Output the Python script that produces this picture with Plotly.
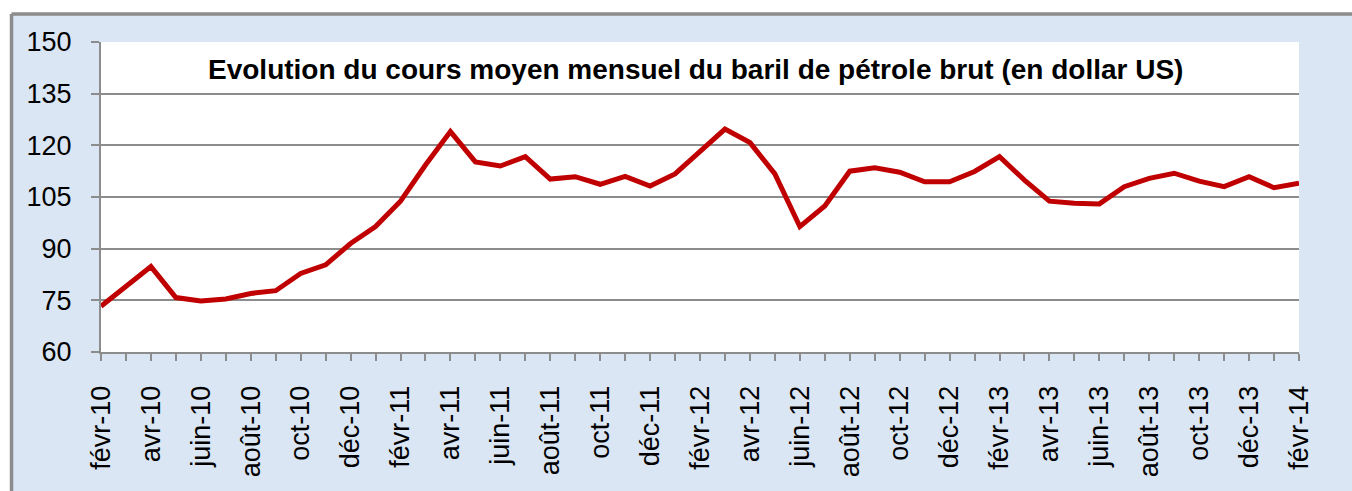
import plotly.graph_objects as go

# Cours moyen mensuel du baril (USD), févr-10 -> févr-14
month_names = ["janv", "févr", "mars", "avr", "mai", "juin",
               "juil", "août", "sept", "oct", "nov", "déc"]
months = [f"{month_names[(1 + i) % 12]}-{10 + (1 + i) // 12}" for i in range(49)]

prices = [
    73.3, 79.2, 84.8, 75.8, 74.8, 75.4, 77.0, 77.8, 82.8, 85.3,
    91.5, 96.4, 103.8, 114.3, 124.0, 115.2, 114.0, 116.7, 110.2, 110.9,
    108.7, 111.0, 108.2, 111.7, 118.2, 124.7, 120.8, 111.7, 96.4, 102.4,
    112.5, 113.5, 112.2, 109.4, 109.4, 112.4, 116.7, 109.9, 103.8, 103.2,
    103.0, 108.0, 110.4, 111.9, 109.6, 108.0, 110.9, 107.7, 109.0,
]

y_ticks = [60, 75, 90, 105, 120, 135, 150]
title_text = "Evolution du cours moyen mensuel du baril de pétrole brut (en dollar US)"

# one tick per month, a label every second month
tick_text = [m if i % 2 == 0 else "" for i, m in enumerate(months)]

FONT = "Liberation Sans, Arial, sans-serif"
GRID = "#8c8c8c"
FRAME_X = -0.0747   # left edge of the outer frame (paper coords)
FRAME_Y = 1.0903    # top edge of the outer frame

fig = go.Figure()
fig.add_trace(go.Scatter(
    x=months, y=prices, mode="lines",
    line=dict(color="#c00000", width=5),
    hoverinfo="x+y",
))

fig.update_layout(
    width=1352, height=491,
    margin=dict(l=101, r=53, t=42, b=139),
    paper_bgcolor="#dae6f3",
    plot_bgcolor="white",
    showlegend=False,
    font=dict(family=FONT, size=27, color="black"),
    annotations=[dict(
        text=f"<b>{title_text}</b>",
        xref="paper", yref="paper", x=0.496, y=0.91,
        xanchor="center", yanchor="middle", showarrow=False,
        font=dict(family=FONT, size=28, color="black"),
    )],
    shapes=[
        # white page around the frame (top and left)
        dict(type="rect", xref="paper", yref="paper",
             x0=-1, x1=2, y0=FRAME_Y, y1=2,
             fillcolor="white", line=dict(width=0), layer="below"),
        dict(type="rect", xref="paper", yref="paper",
             x0=-1, x1=FRAME_X, y0=-2, y1=2,
             fillcolor="white", line=dict(width=0), layer="below"),
        # frame borders
        dict(type="line", xref="paper", yref="paper",
             x0=FRAME_X, x1=2, y0=FRAME_Y, y1=FRAME_Y,
             line=dict(color="#8c8c8c", width=3.5), layer="below"),
        dict(type="line", xref="paper", yref="paper",
             x0=FRAME_X, x1=FRAME_X, y0=-2, y1=FRAME_Y,
             line=dict(color="#8c8c8c", width=3.5), layer="below"),
    ],
)

fig.update_xaxes(
    type="category", range=[0, len(months) - 1],
    tickmode="array", tickvals=months, ticktext=tick_text,
    tickangle=-90, ticks="outside", ticklen=7, tickwidth=2, tickcolor=GRID,
    ticklabelstandoff=14,
    showline=True, linecolor=GRID, linewidth=2,
    showgrid=False, zeroline=False, automargin=False,
    tickfont=dict(family=FONT, size=27, color="black"),
)
fig.update_yaxes(
    range=[60, 150], tickmode="array", tickvals=y_ticks,
    ticks="outside", ticklen=8, tickwidth=2, tickcolor=GRID,
    ticklabelstandoff=14,
    showline=True, linecolor=GRID, linewidth=2,
    showgrid=True, gridcolor=GRID, gridwidth=2,
    zeroline=False, automargin=False,
    tickfont=dict(family=FONT, size=27, color="black"),
)

# drop the default page margin so the figure fills the window
fig.write_html(
    "out.html",
    config={"displayModeBar": False},
    post_script="document.body.style.margin='0';document.body.style.overflow='hidden';",
)
